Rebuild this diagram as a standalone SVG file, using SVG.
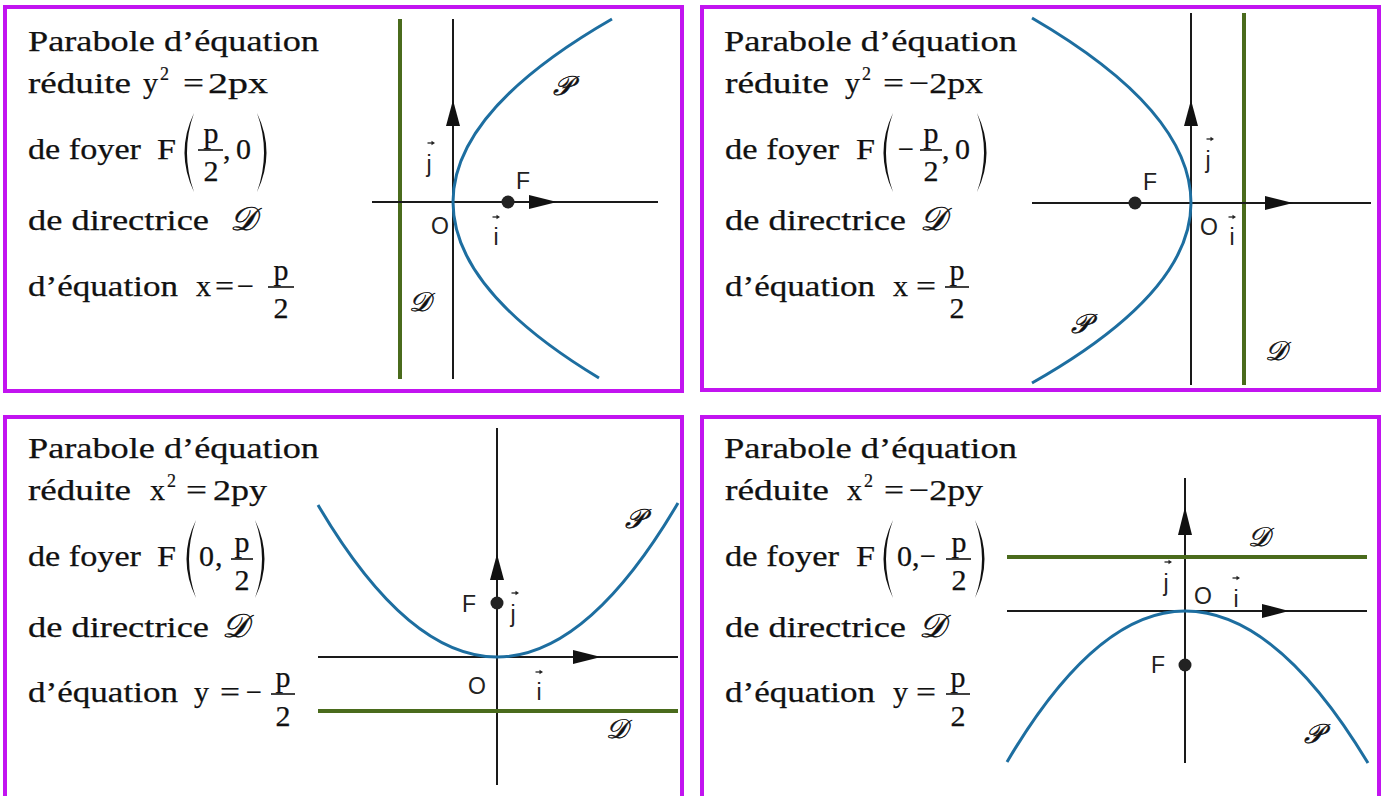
<svg xmlns="http://www.w3.org/2000/svg" xmlns:xlink="http://www.w3.org/1999/xlink" width="1383" height="796" viewBox="0 0 1383 796">
<style>
.frame{fill:none;stroke:#c214f0;stroke-width:4}
.t{font-family:"Liberation Serif","Times New Roman",serif;font-size:30px;fill:#111;stroke:#111;stroke-width:0.25}
.sup{font-family:"Liberation Serif","Times New Roman",serif;font-size:18px;fill:#111;stroke:#111;stroke-width:0.2}
.fr{font-family:"Liberation Serif","Times New Roman",serif;font-size:30px;fill:#111;text-anchor:middle;stroke:#111;stroke-width:0.25}
.bar{stroke:#111;stroke-width:1.6}
.par{fill:#111}
.ax{stroke:#1a1a1a;stroke-width:2;fill:none}
.dir{stroke:#4a6b1c;stroke-width:4;fill:none}
.pb{stroke:#1d6ea0;stroke-width:3;fill:none}
.ah{fill:#111}
.lb{font-family:"Liberation Sans",Arial,sans-serif;font-size:23px;fill:#222}
.lc{font-family:"Liberation Sans",Arial,sans-serif;font-size:23px;fill:#222;text-anchor:middle}
.sc{font-family:"DejaVu Serif","DejaVu Sans","Liberation Serif",serif;font-style:italic;font-size:27px;fill:#111;text-anchor:middle;stroke:#111;stroke-width:0.5}
.sct{font-family:"DejaVu Serif","DejaVu Sans","Liberation Serif",serif;font-style:italic;font-size:33px;fill:#111;stroke:#111;stroke-width:0.5}
.dot{fill:#222}
</style>
<defs>
<g id="vec"><path d="M-3.5,0H1.5" stroke="#222" stroke-width="1.3"/><path d="M0.5,-2.2L4,0L0.5,2.2Z" fill="#222"/></g>
</defs>
<rect width="1383" height="796" fill="#ffffff"/>

<!-- Panel 1 -->
<g id="panel1">
<rect class="frame" x="5" y="7" width="677" height="384"/>
<text class="t" x="28" y="51" textLength="291" lengthAdjust="spacingAndGlyphs">Parabole d’équation</text>
<text class="t" x="28" y="93" textLength="103" lengthAdjust="spacingAndGlyphs">réduite</text>
<text class="t" x="143" y="93">y</text>
<text class="sup" x="160" y="80">2</text>
<text class="t" x="183" y="93" textLength="21" lengthAdjust="spacingAndGlyphs">=</text>
<text class="t" x="208" y="93" textLength="60" lengthAdjust="spacingAndGlyphs">2px</text>
<text class="t" x="28" y="159" textLength="113" lengthAdjust="spacingAndGlyphs">de foyer</text>
<text class="t" x="157" y="159" textLength="19" lengthAdjust="spacingAndGlyphs">F</text>
<path class="par" d="M194,113Q175,152.5 194,192Q180,152.5 194,113Z"/>
<text class="fr" x="211" y="143">p</text>
<line class="bar" x1="198" y1="150" x2="223" y2="150"/>
<text class="fr" x="211" y="181">2</text>
<text class="t" x="223" y="159">,</text>
<text class="t" x="236" y="159">0</text>
<path class="par" d="M257,113Q276,152.5 257,192Q271,152.5 257,113Z"/>
<text class="t" x="28" y="230" textLength="181" lengthAdjust="spacingAndGlyphs">de directrice</text>
<text class="sct" x="230" y="230">𝒟</text>
<text class="t" x="28" y="296" textLength="150" lengthAdjust="spacingAndGlyphs">d’équation</text>
<text class="t" x="196" y="296">x</text>
<text class="t" x="215" y="296" textLength="19" lengthAdjust="spacingAndGlyphs">=</text>
<text class="t" x="237" y="296" textLength="17" lengthAdjust="spacingAndGlyphs">−</text>
<text class="fr" x="281" y="280">p</text>
<line class="bar" x1="268" y1="287" x2="294" y2="287"/>
<text class="fr" x="281" y="318">2</text>
<g id="graph1">
<line class="dir" x1="400" y1="19" x2="400" y2="379"/>
<line class="ax" x1="453" y1="19" x2="453" y2="379"/>
<line class="ax" x1="372" y1="202" x2="658" y2="202"/>
<path class="ah" d="M453,100L446,126L460,126Z"/>
<path class="ah" d="M557,202L529,195L529,209Z"/>
<path class="pb" d="M612,19Q453,110.5 453,202Q453,290 599,378"/>
<circle class="dot" cx="508" cy="202" r="6.5"/>
<text class="lb" x="516" y="189">F</text>
<text class="lb" x="431" y="234">O</text>
<text class="lc" x="496" y="245">i</text>
<use xlink:href="#vec" x="496" y="217"/>
<text class="lc" x="429" y="172">j</text>
<use xlink:href="#vec" x="431" y="143"/>
<text class="sc" x="562" y="95">𝒫</text>
<text class="sc" x="420" y="311">𝒟</text>
</g>
</g>

<!-- Panel 2 -->
<g id="panel2">
<rect class="frame" x="702" y="7" width="677" height="383"/>
<text class="t" x="724" y="51" textLength="293" lengthAdjust="spacingAndGlyphs">Parabole d’équation</text>
<text class="t" x="725" y="93" textLength="104" lengthAdjust="spacingAndGlyphs">réduite</text>
<text class="t" x="845" y="93">y</text>
<text class="sup" x="862" y="80">2</text>
<text class="t" x="883" y="93" textLength="21" lengthAdjust="spacingAndGlyphs">=</text>
<text class="t" x="909" y="93" textLength="74" lengthAdjust="spacingAndGlyphs">−2px</text>
<text class="t" x="725" y="159" textLength="114" lengthAdjust="spacingAndGlyphs">de foyer</text>
<text class="t" x="856" y="159" textLength="19" lengthAdjust="spacingAndGlyphs">F</text>
<path class="par" d="M893,113Q874,152.5 893,192Q879,152.5 893,113Z"/>
<text class="t" x="898" y="159" textLength="16" lengthAdjust="spacingAndGlyphs">−</text>
<text class="fr" x="931" y="143">p</text>
<line class="bar" x1="920" y1="150" x2="942" y2="150"/>
<text class="fr" x="931" y="181">2</text>
<text class="t" x="942" y="159">,</text>
<text class="t" x="955" y="159">0</text>
<path class="par" d="M977,113Q996,152.5 977,192Q991,152.5 977,113Z"/>
<text class="t" x="725" y="230" textLength="181" lengthAdjust="spacingAndGlyphs">de directrice</text>
<text class="sct" x="920" y="230">𝒟</text>
<text class="t" x="725" y="296" textLength="150" lengthAdjust="spacingAndGlyphs">d’équation</text>
<text class="t" x="893" y="296">x</text>
<text class="t" x="916" y="296" textLength="20" lengthAdjust="spacingAndGlyphs">=</text>
<text class="fr" x="957" y="280">p</text>
<line class="bar" x1="945" y1="287" x2="969" y2="287"/>
<text class="fr" x="957" y="318">2</text>
<g id="graph2">
<line class="dir" x1="1244" y1="13" x2="1244" y2="385"/>
<line class="ax" x1="1191" y1="13" x2="1191" y2="385"/>
<line class="ax" x1="1032" y1="203" x2="1371" y2="203"/>
<path class="ah" d="M1191,100L1184,126L1198,126Z"/>
<path class="ah" d="M1293,203L1265,196L1265,210Z"/>
<path class="pb" d="M1032,18Q1191,110.5 1191,203Q1191,293 1032,383"/>
<circle class="dot" cx="1135" cy="203" r="6.5"/>
<text class="lb" x="1143" y="190">F</text>
<text class="lb" x="1200" y="235">O</text>
<text class="lc" x="1232" y="245">i</text>
<use xlink:href="#vec" x="1232" y="217"/>
<text class="lc" x="1208" y="168">j</text>
<use xlink:href="#vec" x="1210" y="139"/>
<text class="sc" x="1080" y="333">𝒫</text>
<text class="sc" x="1276" y="360">𝒟</text>
</g>
</g>

<!-- Panel 3 -->
<g id="panel3">
<rect class="frame" x="5" y="417" width="677" height="384"/>
<text class="t" x="28" y="458" textLength="291" lengthAdjust="spacingAndGlyphs">Parabole d’équation</text>
<text class="t" x="28" y="500" textLength="103" lengthAdjust="spacingAndGlyphs">réduite</text>
<text class="t" x="150" y="500">x</text>
<text class="sup" x="167" y="487">2</text>
<text class="t" x="186" y="500" textLength="21" lengthAdjust="spacingAndGlyphs">=</text>
<text class="t" x="213" y="500" textLength="54" lengthAdjust="spacingAndGlyphs">2py</text>
<text class="t" x="28" y="566" textLength="113" lengthAdjust="spacingAndGlyphs">de foyer</text>
<text class="t" x="157" y="566" textLength="19" lengthAdjust="spacingAndGlyphs">F</text>
<path class="par" d="M196,520Q177,559 196,598Q182,559 196,520Z"/>
<text class="t" x="199" y="566">0</text>
<text class="t" x="215" y="566">,</text>
<text class="fr" x="242" y="552">p</text>
<line class="bar" x1="231" y1="559" x2="253" y2="559"/>
<text class="fr" x="242" y="590">2</text>
<path class="par" d="M255,520Q274,559 255,598Q269,559 255,520Z"/>
<text class="t" x="28" y="637" textLength="181" lengthAdjust="spacingAndGlyphs">de directrice</text>
<text class="sct" x="222" y="637">𝒟</text>
<text class="t" x="28" y="702" textLength="150" lengthAdjust="spacingAndGlyphs">d’équation</text>
<text class="t" x="194" y="702">y</text>
<text class="t" x="220" y="702" textLength="20" lengthAdjust="spacingAndGlyphs">=</text>
<text class="t" x="246" y="702" textLength="16" lengthAdjust="spacingAndGlyphs">−</text>
<text class="fr" x="283" y="687">p</text>
<line class="bar" x1="271" y1="694" x2="295" y2="694"/>
<text class="fr" x="283" y="726">2</text>
<g id="graph3">
<line class="ax" x1="497" y1="428" x2="497" y2="785"/>
<line class="dir" x1="318" y1="711" x2="678" y2="711"/>
<line class="ax" x1="318" y1="657" x2="678" y2="657"/>
<path class="ah" d="M497,554L490,580L504,580Z"/>
<path class="ah" d="M601,657L573,650L573,664Z"/>
<path class="pb" d="M318,505Q407.5,657 497,657Q587.5,657 678,503"/>
<circle class="dot" cx="497" cy="603" r="6.5"/>
<text class="lb" x="462" y="612">F</text>
<text class="lb" x="468" y="694">O</text>
<text class="lc" x="539" y="700">i</text>
<use xlink:href="#vec" x="539" y="672"/>
<text class="lc" x="513" y="622">j</text>
<use xlink:href="#vec" x="515" y="593"/>
<text class="sc" x="634" y="528">𝒫</text>
<text class="sc" x="617" y="738">𝒟</text>
</g>
</g>

<!-- Panel 4 -->
<g id="panel4">
<rect class="frame" x="702" y="417" width="677" height="384"/>
<text class="t" x="724" y="458" textLength="293" lengthAdjust="spacingAndGlyphs">Parabole d’équation</text>
<text class="t" x="725" y="500" textLength="104" lengthAdjust="spacingAndGlyphs">réduite</text>
<text class="t" x="847" y="500">x</text>
<text class="sup" x="864" y="487">2</text>
<text class="t" x="884" y="500" textLength="20" lengthAdjust="spacingAndGlyphs">=</text>
<text class="t" x="909" y="500" textLength="74" lengthAdjust="spacingAndGlyphs">−2py</text>
<text class="t" x="725" y="566" textLength="114" lengthAdjust="spacingAndGlyphs">de foyer</text>
<text class="t" x="856" y="566" textLength="19" lengthAdjust="spacingAndGlyphs">F</text>
<path class="par" d="M893,520Q874,559 893,598Q879,559 893,520Z"/>
<text class="t" x="897" y="566">0</text>
<text class="t" x="912" y="566">,</text>
<text class="t" x="920" y="566" textLength="16" lengthAdjust="spacingAndGlyphs">−</text>
<text class="fr" x="959" y="552">p</text>
<line class="bar" x1="946" y1="559" x2="971" y2="559"/>
<text class="fr" x="959" y="590">2</text>
<path class="par" d="M975,520Q994,559 975,598Q989,559 975,520Z"/>
<text class="t" x="725" y="637" textLength="181" lengthAdjust="spacingAndGlyphs">de directrice</text>
<text class="sct" x="919" y="637">𝒟</text>
<text class="t" x="725" y="702" textLength="150" lengthAdjust="spacingAndGlyphs">d’équation</text>
<text class="t" x="893" y="702">y</text>
<text class="t" x="916" y="702" textLength="20" lengthAdjust="spacingAndGlyphs">=</text>
<text class="fr" x="958" y="687">p</text>
<line class="bar" x1="946" y1="694" x2="970" y2="694"/>
<text class="fr" x="958" y="726">2</text>
<g id="graph4">
<line class="ax" x1="1185" y1="478" x2="1185" y2="763"/>
<line class="dir" x1="1007" y1="557" x2="1367" y2="557"/>
<line class="ax" x1="1007" y1="611" x2="1367" y2="611"/>
<path class="ah" d="M1185,507L1178,535L1192,535Z"/>
<path class="ah" d="M1289,611L1262,604L1262,618Z"/>
<path class="pb" d="M1007,762Q1096,611 1185,611Q1276.5,611 1368,763"/>
<circle class="dot" cx="1185" cy="665" r="6.5"/>
<text class="lb" x="1151" y="673">F</text>
<text class="lb" x="1194" y="604">O</text>
<text class="lc" x="1236" y="607">i</text>
<use xlink:href="#vec" x="1236" y="578"/>
<text class="lc" x="1166" y="591">j</text>
<use xlink:href="#vec" x="1168" y="562"/>
<text class="sc" x="1259" y="546">𝒟</text>
<text class="sc" x="1313" y="743">𝒫</text>
</g>
</g>
</svg>
